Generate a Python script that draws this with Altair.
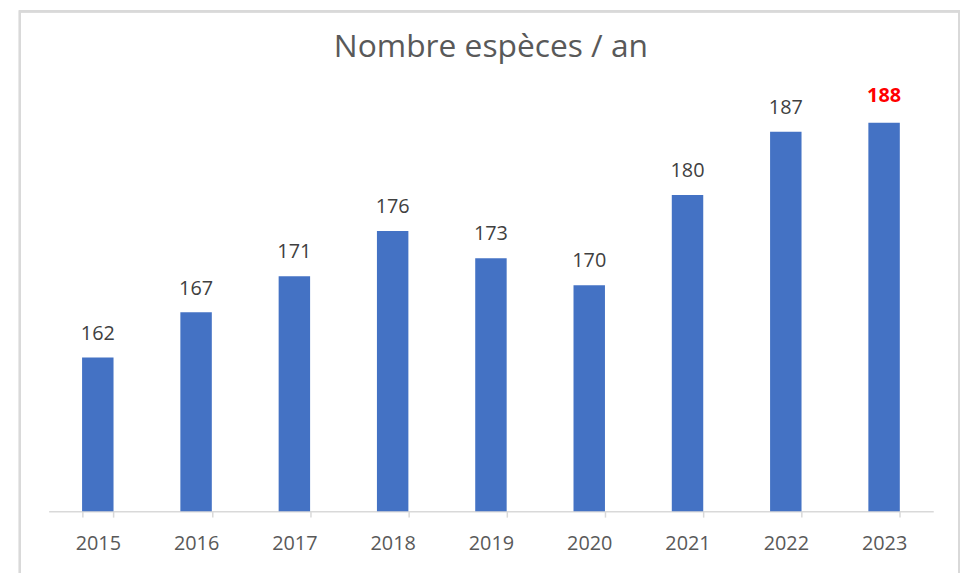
import altair as alt
import pandas as pd

years = ["2015", "2016", "2017", "2018", "2019", "2020", "2021", "2022", "2023"]
species = [162, 167, 171, 176, 173, 170, 180, 187, 188]
highlight = [False, False, False, False, False, False, False, False, True]

df = pd.DataFrame({"year": years, "n": species, "hl": highlight})

FONT = "Open Sans"

x = alt.X("year:N", sort=years, title=None,
          scale=alt.Scale(paddingInner=0.68, paddingOuter=0.34),
          axis=alt.Axis(labelAngle=0, labelFontSize=20, labelFont=FONT, labelColor="#595959",
                        domainColor="#d9d9d9", domainWidth=1.5, tickColor="#d9d9d9",
                        tickWidth=1.5, tickSize=6, tickBand="extent", labelPadding=17))
y = alt.Y("n:Q", scale=alt.Scale(domain=[145, 190], nice=False, zero=False), axis=None)

bars = alt.Chart(df).mark_bar(color="#4472C4", clip=True).encode(x=x, y=y)

labels = alt.Chart(df).transform_filter("!datum.hl").mark_text(
    baseline="alphabetic", dy=-18, fontSize=20, font=FONT, color="#404040"
).encode(x=x, y=y, text="n:Q")

labels_hl = alt.Chart(df).transform_filter("datum.hl").mark_text(
    baseline="alphabetic", dy=-21, fontSize=20, font=FONT, color="#FF0000", fontWeight="bold"
).encode(x=x, y=y, text="n:Q")

frame = alt.Chart(df).mark_rect(fill=None, stroke="#d9d9d9", strokeWidth=2).encode(
    x=alt.value(-29), x2=alt.value(918), y=alt.value(-94), y2=alt.value(497)
)

chart = alt.layer(frame, bars, labels, labels_hl).properties(
    width=892, height=410,
    title=alt.TitleParams("Nombre espèces / an", fontSize=32, font=FONT, fontWeight="normal",
                          color="#595959", anchor="middle", frame="group", offset=0, dy=79,
                          baseline="alphabetic"),
    autosize=alt.AutoSizeParams(type="none"),
    padding={"left": 41, "top": 95, "right": 28, "bottom": 60},
).configure_view(stroke=None)

chart.save("out.html", embed_options={"renderer": "svg", "actions": False})
